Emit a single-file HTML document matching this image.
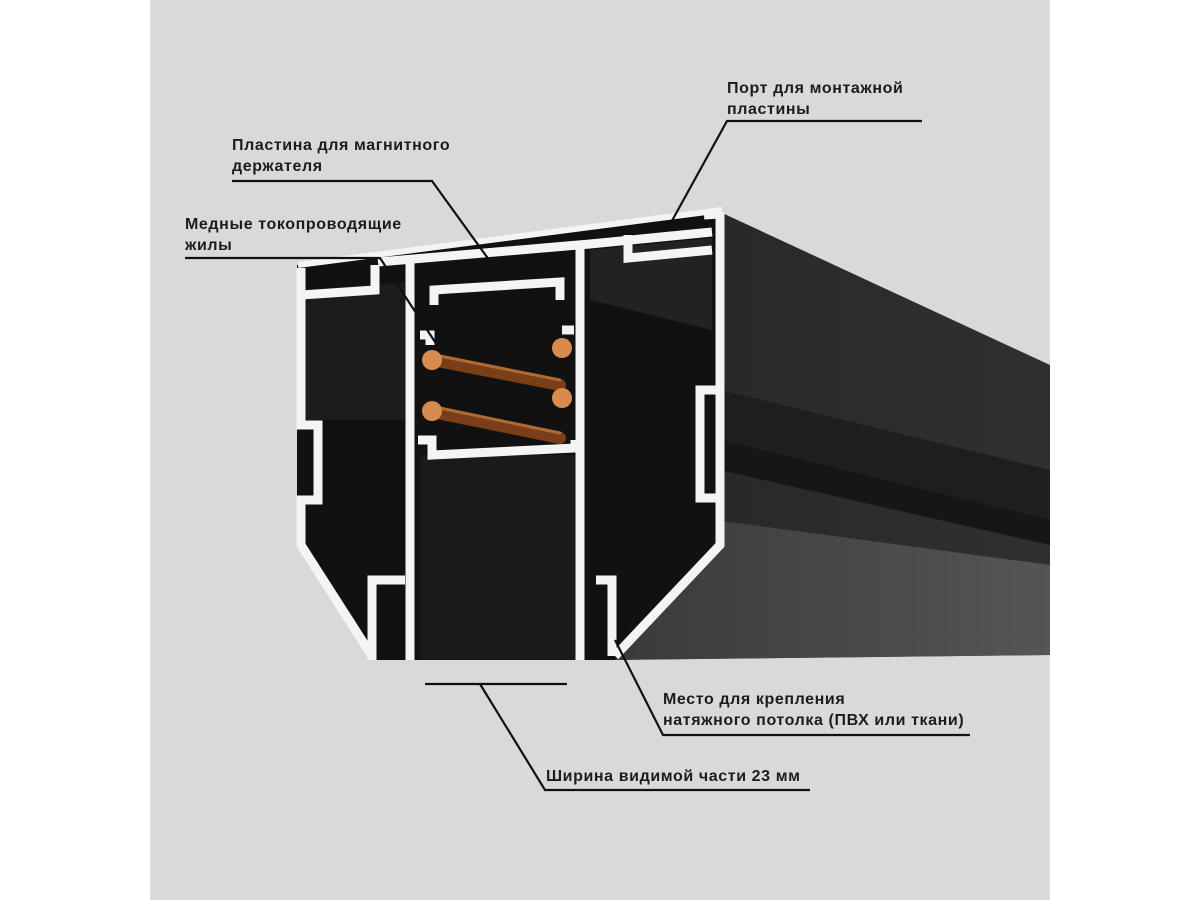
<!DOCTYPE html>
<html><head><meta charset="utf-8"><style>
html,body{margin:0;padding:0;background:#fff;}
svg{display:block;}
text{font-family:"Liberation Sans","DejaVu Sans",sans-serif;font-weight:bold;font-size:16px;letter-spacing:0.6px;fill:#1c1c1c;}
</style></head><body>
<svg width="1200" height="900" viewBox="0 0 1200 900">
<defs>
<linearGradient id="side" x1="0" y1="0" x2="1" y2="0"><stop offset="0" stop-color="#262626"/><stop offset="1" stop-color="#303030"/></linearGradient>
<linearGradient id="low" x1="0" y1="0" x2="1" y2="0"><stop offset="0" stop-color="#3a3a3a"/><stop offset="1" stop-color="#555"/></linearGradient>
</defs>
<rect x="150" y="0" width="900" height="900" fill="#d9d9d9"/>
<polygon points="720,212 1050,365 1050,655 600,660 720,545" fill="url(#side)"/>
<polygon points="715,520 1050,565 1050,655 615,660" fill="url(#low)"/>
<polygon points="720,390 1050,470 1050,545 720,470" fill="#1e1e1e"/>
<polygon points="720,440 1050,520 1050,545 720,470" fill="#161616"/>
<polygon points="297,265 720,212 720,545 615,660 372,660 297,545" fill="#111"/>
<polygon points="305,290 405,282 405,420 305,420" fill="#1c1c1c"/>
<polygon points="590,250 712,238 712,330 590,300" fill="#222"/>
<rect x="420" y="455" width="155" height="205" fill="#1a1a1a"/>
<g stroke-linecap="round">
<line x1="432" y1="360" x2="560" y2="385" stroke="#7a3e18" stroke-width="12"/>
<line x1="432" y1="412" x2="560" y2="438" stroke="#7a3e18" stroke-width="12"/>
<line x1="440" y1="356" x2="560" y2="380" stroke="#b06a35" stroke-width="3"/>
<line x1="440" y1="408" x2="560" y2="433" stroke="#b06a35" stroke-width="3"/>
</g>
<g fill="#d98a4e"><circle cx="432" cy="360" r="10"/><circle cx="562" cy="348" r="10"/><circle cx="432" cy="411" r="10"/><circle cx="562" cy="398" r="10"/></g>
<g fill="none" stroke="#f4f4f4" stroke-width="9" stroke-linejoin="miter">
<polyline points="378,262 590,244 712,232"/>
<polyline points="720,212 720,545 615,656"/>
<polyline points="301,268 301,425 318,425 318,500 301,500 301,545 372,656"/>
<polyline points="301,295 375,290 375,265"/>
<polyline points="410,262 410,660"/>
<polyline points="580,248 580,660"/>
<polyline points="628,235 628,258 712,250"/>
<polyline points="704,215 720,214"/>
<polyline points="720,390 700,390 700,498 720,498"/>
<polyline points="372,660 372,580 405,580"/>
<polyline points="596,580 612,580 612,656"/>
<polyline points="434,305 434,290 560,282 560,300"/>
<polyline points="420,335 430,335 430,345"/>
<polyline points="574,330 562,330"/>
<polyline points="418,440 432,440 432,455 575,448 575,440"/>
</g>
<line x1="298" y1="265" x2="722" y2="210" stroke="#f4f4f4" stroke-width="6"/>
<g fill="none" stroke="#111" stroke-width="2.2">
<polyline points="922,121 727,121 668,228"/>
<polyline points="232,181 432,181 492,264"/>
<polyline points="185,258 380,258 437,345"/>
<line x1="425" y1="684" x2="567" y2="684"/>
<polyline points="480,684 545,790 810,790"/>
<polyline points="970,735 663,735 615,640"/>
</g>
<text x="727" y="93">Порт для монтажной</text>
<text x="727" y="114">пластины</text>
<text x="232" y="150">Пластина для магнитного</text>
<text x="232" y="171">держателя</text>
<text x="185" y="229">Медные токопроводящие</text>
<text x="185" y="250">жилы</text>
<text x="663" y="704">Место для крепления</text>
<text x="663" y="725">натяжного потолка (ПВХ или ткани)</text>
<text x="546" y="781">Ширина видимой части 23 мм</text>
</svg>
</body></html>
